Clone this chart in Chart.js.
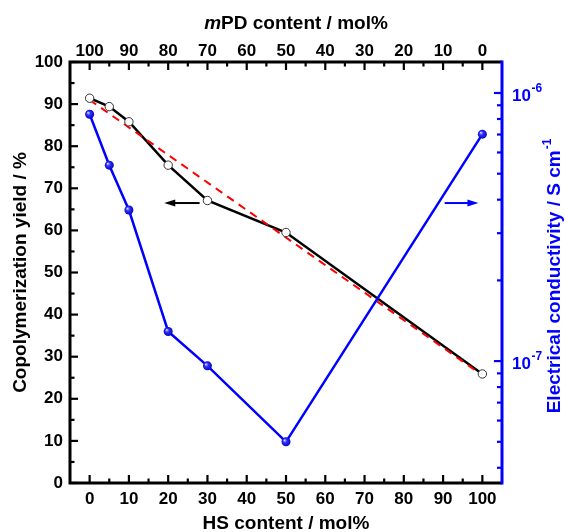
<!DOCTYPE html>
<html>
<head>
<meta charset="utf-8">
<script src="https://cdn.jsdelivr.net/npm/chart.js@4.4.0/dist/chart.umd.min.js"></script>
<style>
  html, body { margin: 0; padding: 0; background: #fff; }
  #wrap { width: 565px; height: 532px; }
</style>
</head>
<body>
<div id="wrap"><canvas id="yieldChart" width="565" height="532"></canvas></div>
<script>
// HS content of the copolymers (mol%), mPD content = 100 - HS
const hsContent = [0, 5, 10, 20, 30, 50, 100];
const yieldValues = [91.4, 89.4, 85.8, 75.5, 67.1, 59.5, 25.9];
const conductivity = [8.33e-7, 5.38e-7, 3.66e-7, 1.29e-7, 9.6e-8, 5.0e-8, 7.02e-7];

// red dashed linear trend (end points)
const fitX = [0, 100];
const fitY = [91.0, 25.6];

// tick labels
const hsTicks = [0, 10, 20, 30, 40, 50, 60, 70, 80, 90, 100];
const mpdTicks = [100, 90, 80, 70, 60, 50, 40, 30, 20, 10, 0];
const yieldTicks = [0, 10, 20, 30, 40, 50, 60, 70, 80, 90, 100];
const condTicks = [1e-7, 1e-6];
const condTickExp = ['-7', '-6'];

const FONT = '"Liberation Sans", Arial, sans-serif';
const BLUE = '#0000ff';

function midpoints(arr) {
    const sorted = arr.slice().sort((a, b) => a - b);
    return sorted.slice(1).map((v, i) => (v + sorted[i]) / 2);
}

function setTicks(values) {
    return (scale) => { scale.ticks = values.map(v => ({ value: v })); };
}

// draws the frame, inward ticks, arrows and the rich-text labels
const decorations = {
    id: 'decorations',
    afterDatasetsDraw(chart) {
        const { ctx, chartArea: a, scales } = chart;
        const sx = scales.x, st = scales.xTop, sy = scales.y, sr = scales.y2;
        ctx.save();
        ctx.lineCap = 'butt';

        const line = (x1, y1, x2, y2) => {
            ctx.beginPath(); ctx.moveTo(x1, y1); ctx.lineTo(x2, y2); ctx.stroke();
        };

        // black ticks
        ctx.strokeStyle = '#000';
        ctx.lineWidth = 2.2;
        hsTicks.forEach(v => { const x = sx.getPixelForValue(v); line(x, a.bottom, x, a.bottom - 8); });
        midpoints(hsTicks).forEach(v => { const x = sx.getPixelForValue(v); line(x, a.bottom, x, a.bottom - 4.5); });
        mpdTicks.forEach(v => { const x = st.getPixelForValue(v); line(x, a.top, x, a.top + 8); });
        midpoints(mpdTicks).forEach(v => { const x = st.getPixelForValue(v); line(x, a.top, x, a.top + 4.5); });
        yieldTicks.forEach(v => { const y = sy.getPixelForValue(v); line(a.left, y, a.left + 8, y); });
        midpoints(yieldTicks).forEach(v => { const y = sy.getPixelForValue(v); line(a.left, y, a.left + 4.5, y); });

        // blue ticks on the log axis
        ctx.strokeStyle = BLUE;
        condTicks.forEach(v => { const y = sr.getPixelForValue(v); line(a.right, y, a.right - 8, y); });
        [1e-8, 1e-7, 1e-6].forEach(d => {
            for (let k = 2; k <= 9; k++) {
                const v = k * d;
                if (v < sr.min || v > sr.max) continue;
                const y = sr.getPixelForValue(v);
                line(a.right, y, a.right - 5, y);
            }
        });

        // frame
        ctx.lineWidth = 3;
        ctx.strokeStyle = '#000';
        ctx.beginPath();
        ctx.moveTo(a.right, a.top); ctx.lineTo(a.left, a.top);
        ctx.lineTo(a.left, a.bottom); ctx.lineTo(a.right, a.bottom);
        ctx.stroke();
        ctx.strokeStyle = BLUE;
        line(a.right, a.top - 1.5, a.right, a.bottom + 1.5);

        // arrows pointing to the relevant axis
        const arrow = (x1, x2, yv, color) => {
            const px1 = sx.getPixelForValue(x1), px2 = sx.getPixelForValue(x2);
            const py = sy.getPixelForValue(yv);
            const dir = Math.sign(px2 - px1);
            ctx.strokeStyle = color; ctx.fillStyle = color; ctx.lineWidth = 2;
            line(px1, py, px2 - dir * 8, py);
            ctx.beginPath();
            ctx.moveTo(px2, py);
            ctx.lineTo(px2 - dir * 11, py - 3.5);
            ctx.lineTo(px2 - dir * 11, py + 3.5);
            ctx.closePath(); ctx.fill();
        };
        arrow(28, 19, 66.5, '#000');
        arrow(90.4, 99, 66.5, BLUE);

        // top axis title with italic m
        ctx.fillStyle = '#000';
        ctx.textBaseline = 'middle';
        ctx.textAlign = 'left';
        ctx.font = 'italic bold 19px ' + FONT;
        const wm = ctx.measureText('m').width;
        ctx.font = 'bold 19px ' + FONT;
        const rest = 'PD content / mol%';
        const wr = ctx.measureText(rest).width;
        let tx = (a.left + a.right) / 2 + 10 - (wm + wr) / 2;
        ctx.font = 'italic bold 19px ' + FONT;
        ctx.fillText('m', tx, 24);
        ctx.font = 'bold 19px ' + FONT;
        ctx.fillText(rest, tx + wm, 24);

        // right tick labels 10^n
        ctx.fillStyle = BLUE;
        condTicks.forEach((v, i) => {
            const y = sr.getPixelForValue(v);
            ctx.font = 'bold 17px ' + FONT;
            ctx.fillText('10', a.right + 10, y + 3);
            const w = ctx.measureText('10').width;
            ctx.font = 'bold 12px ' + FONT;
            ctx.fillText(condTickExp[i], a.right + 10 + w + 0.5, y - 4);
        });

        // right axis title, rotated
        const main = 'Electrical conductivity / S cm';
        ctx.font = 'bold 19px ' + FONT;
        const w1 = ctx.measureText(main).width;
        ctx.font = 'bold 12px ' + FONT;
        const w2 = ctx.measureText('-1').width;
        ctx.translate(555, (a.top + a.bottom) / 2 + 4);
        ctx.rotate(-Math.PI / 2);
        ctx.font = 'bold 19px ' + FONT;
        ctx.fillText(main, -(w1 + w2) / 2, 0);
        ctx.font = 'bold 12px ' + FONT;
        ctx.fillText('-1', -(w1 + w2) / 2 + w1 + 1, -7);
        ctx.restore();
    }
};

function sphereFill(context) {
    if (context.type !== 'data') return BLUE;
    const c = context.chart;
    const x = c.scales.x.getPixelForValue(hsContent[context.dataIndex]);
    const y = c.scales.y2.getPixelForValue(conductivity[context.dataIndex]);
    if (!isFinite(x) || !isFinite(y)) return BLUE;
    const g = c.ctx.createRadialGradient(x - 1.6, y - 1.6, 0.3, x, y, 5);
    g.addColorStop(0, '#c8d0ff');
    g.addColorStop(0.35, '#3030ff');
    g.addColorStop(1, '#0000b0');
    return g;
}

const tickFont = { family: FONT, size: 17, weight: 'bold', lineHeight: 1.2 };
const titleFont = { family: FONT, size: 19, weight: 'bold', lineHeight: 1 };

const ctx = document.getElementById('yieldChart').getContext('2d');
new Chart(ctx, {
    type: 'line',
    data: {
        datasets: [
            {
                label: 'Conductivity',
                data: hsContent.map((x, i) => ({ x: x, y: conductivity[i] })),
                yAxisID: 'y2',
                borderColor: BLUE,
                borderWidth: 2.5,
                pointRadius: 4.5,
                pointBackgroundColor: sphereFill,
                pointBorderWidth: 0,
                order: 0
            },
            {
                label: 'Yield points',
                data: hsContent.map((x, i) => ({ x: x, y: yieldValues[i] })),
                yAxisID: 'y',
                showLine: false,
                pointRadius: 4.2,
                pointBackgroundColor: '#fff',
                pointBorderColor: '#333',
                pointBorderWidth: 1,
                order: 1
            },
            {
                label: 'Linear fit',
                data: fitX.map((x, i) => ({ x: x, y: fitY[i] })),
                yAxisID: 'y',
                borderColor: '#ff0000',
                borderWidth: 2,
                borderDash: [8, 6],
                pointRadius: 0,
                order: 2
            },
            {
                label: 'Yield',
                data: hsContent.map((x, i) => ({ x: x, y: yieldValues[i] })),
                yAxisID: 'y',
                borderColor: '#000',
                borderWidth: 2.5,
                pointRadius: 0,
                order: 3
            }
        ]
    },
    options: {
        responsive: false,
        animation: false,
        layout: { padding: 0 },
        plugins: { legend: { display: false }, tooltip: { enabled: false } },
        scales: {
            x: {
                type: 'linear', position: 'bottom', min: -5, max: 105,
                afterBuildTicks: setTicks(hsTicks),
                afterFit: (s) => { s.height = 49; },
                grid: { display: false, drawTicks: false },
                border: { display: false },
                ticks: { font: tickFont, color: '#000', padding: 6, maxRotation: 0, autoSkip: false },
                title: { display: true, text: 'HS content / mol%', font: titleFont, color: '#000', padding: { top: 0, bottom: -1 } }
            },
            xTop: {
                type: 'linear', position: 'top', reverse: true, min: -5, max: 105,
                afterBuildTicks: setTicks(mpdTicks),
                afterFit: (s) => { s.height = 62; },
                grid: { display: false, drawTicks: false },
                border: { display: false },
                ticks: { font: tickFont, color: '#000', padding: 0, maxRotation: 0, autoSkip: false }
            },
            y: {
                type: 'linear', position: 'left', min: 0, max: 100,
                afterBuildTicks: setTicks(yieldTicks),
                afterFit: (s) => { s.width = 70; },
                grid: { display: false, drawTicks: false },
                border: { display: false },
                ticks: { font: tickFont, color: '#000', padding: 7, autoSkip: false },
                title: { display: true, text: 'Copolymerization yield / %', font: titleFont, color: '#000', padding: { top: 11, bottom: 0 } }
            },
            y2: {
                type: 'logarithmic', position: 'right', min: 3.51e-8, max: 1.305e-6,
                afterFit: (s) => { s.width = 63; },
                grid: { display: false, drawTicks: false },
                border: { display: false },
                ticks: { display: false }
            }
        }
    },
    plugins: [decorations]
});
</script>
</body>
</html>
